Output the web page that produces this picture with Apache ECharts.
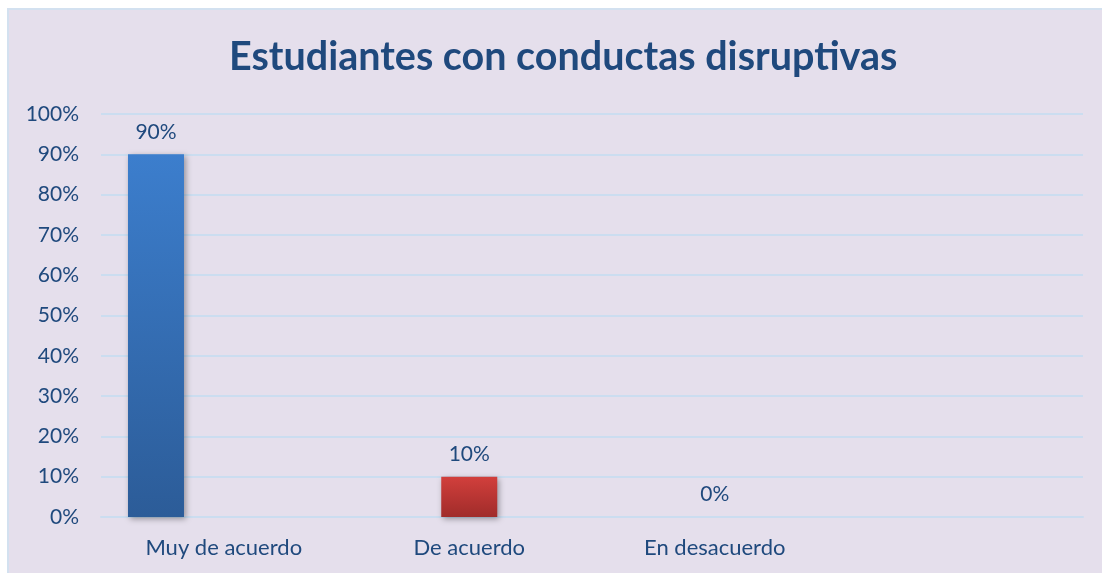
<!DOCTYPE html>
<html>
<head>
<meta charset="utf-8">
<script src="https://cdn.jsdelivr.net/npm/echarts@6/dist/echarts.min.js"></script>
<style>
html,body{margin:0;padding:0;background:#fff;}
#c{width:1102px;height:573px;}
</style>
</head>
<body>
<div id="c"></div>
<script>
const titleText = 'Estudiantes con conductas disruptivas';
const categories = ['Muy de acuerdo', 'De acuerdo', 'En desacuerdo', ''];
const serie1 = [90, null, null, null];
const serie2 = [null, 10, 0, null];
const serie3 = [null, null, null, null];
const yTicks = [0, 10, 20, 30, 40, 50, 60, 70, 80, 90, 100];

const textColor = '#1F497D';
const font = 'Lato';

const chart = echarts.init(document.getElementById('c'));
const labelOpt = {
  show: true, position: 'top', distance: 12,
  formatter: p => (p.value == null ? '' : p.value + '%'),
  color: textColor, fontFamily: font, fontSize: 21
};
const shadow = {shadowColor: 'rgba(0,0,0,0.35)', shadowBlur: 6, shadowOffsetX: 2, shadowOffsetY: 2};
chart.setOption({
  backgroundColor: '#fff',
  animation: false,
  graphic: [
    {type: 'rect', shape: {x: 7, y: 8, width: 1095, height: 565}, style: {fill: '#D3E1F0'}, z: -10},
    {type: 'rect', shape: {x: 9, y: 10, width: 1093, height: 563}, style: {fill: '#E5DFEC'}, z: -9}
  ],
  title: {
    text: titleText, left: 224, top: 32,
    textStyle: {color: textColor, fontFamily: font, fontWeight: 'bold', fontSize: 39.5}
  },
  grid: {left: 101, right: 19, top: 114, bottom: 56},
  xAxis: {
    type: 'category', data: categories,
    axisLine: {show: true, lineStyle: {color: '#CBDDF0', width: 2}},
    axisTick: {show: false},
    axisLabel: {color: textColor, fontFamily: font, fontSize: 22, margin: 20}
  },
  yAxis: {
    type: 'value', min: 0, max: 100, interval: 10,
    axisLine: {show: false}, axisTick: {show: false},
    axisLabel: {formatter: '{value}%', color: textColor, fontFamily: font, fontSize: 21, margin: 22},
    splitLine: {lineStyle: {color: '#CBDDF0', width: 2}}
  },
  series: [
    {
      type: 'bar', data: serie1, barWidth: 56, barGap: '21%',
      itemStyle: Object.assign({color: new echarts.graphic.LinearGradient(0, 0, 0, 1, [
        {offset: 0, color: '#3C7ECD'}, {offset: 1, color: '#2C5C98'}])}, shadow),
      label: labelOpt
    },
    {
      type: 'bar', data: serie2, barWidth: 56, barGap: '21%',
      itemStyle: Object.assign({color: new echarts.graphic.LinearGradient(0, 0, 0, 1, [
        {offset: 0, color: '#D23F3C'}, {offset: 1, color: '#A02C2A'}])}, shadow),
      label: labelOpt
    },
    {
      type: 'bar', data: serie3, barWidth: 56, barGap: '21%',
      itemStyle: {color: '#8DB33F'},
      label: labelOpt
    }
  ]
});
</script>
</body>
</html>
